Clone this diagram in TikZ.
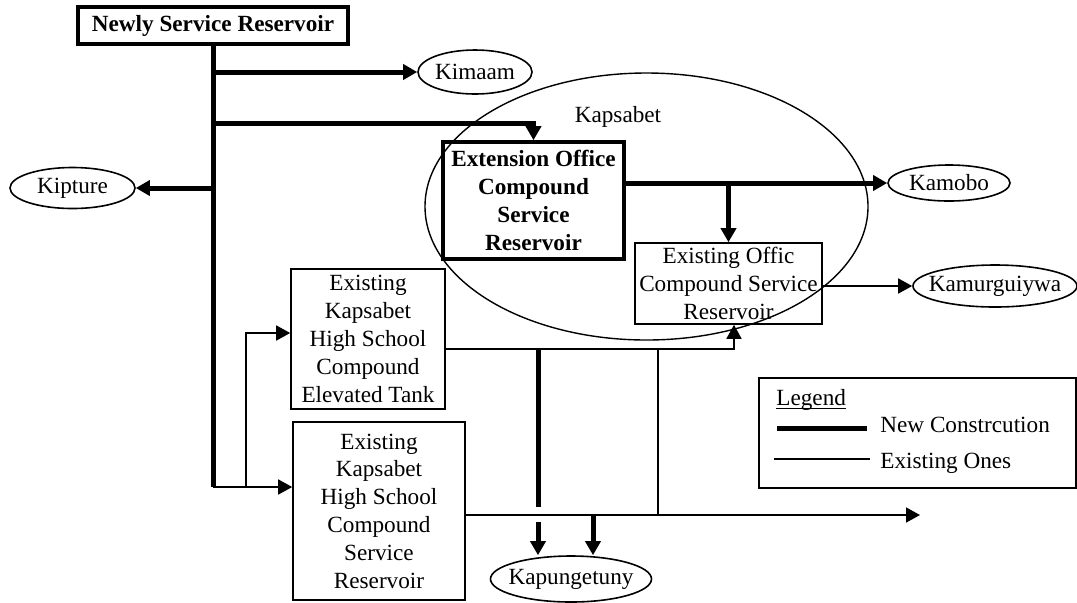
\documentclass[tikz,border=0pt]{standalone}
\usepackage{fontspec}
\setmainfont{Liberation Serif}
\usetikzlibrary{arrows.meta, positioning, shapes.geometric}

\begin{document}
\begin{tikzpicture}[x=0.5pt, y=-0.5pt,
    font=\fontsize{11.6}{13.9}\selectfont,
    newpipe/.style={line width=2.5pt},
    oldpipe/.style={line width=0.8pt},
    tip/.style={-{Triangle[length=7pt,width=7.5pt]}},
    newbox/.style={rectangle, draw, line width=1.8pt, font=\fontsize{11.6}{13.9}\selectfont\bfseries, align=center, inner sep=0pt},
    oldbox/.style={rectangle, draw, line width=0.8pt, align=center, inner sep=0pt},
    place/.style={ellipse, draw, line width=0.8pt, inner sep=0pt}]
    \useasboundingbox (0,0) rectangle (1077,602);

    % Kapsabet area
    \node[place, line width=0.7pt, minimum width=221.5pt, minimum height=133.5pt] (kapsabet) at (646.5,206.5) {};
    \node[anchor=base] (kaplabel) at (618,122.7) {Kapsabet};

    % reservoirs and tanks
    \node[newbox, line width=2pt, minimum width=135pt, minimum height=18.5pt] (nsr) at (213,25.5) {Newly Service Reservoir};
    \node[newbox, minimum width=90.5pt, minimum height=58.5pt] (ext) at (533.5,200.5) {Extension Office\\Compound\\Service\\Reservoir};
    \node[oldbox, minimum width=93.5pt, minimum height=40.5pt] (exoff) at (728.5,283.5) {Existing Offic\\Compound Service\\Reservoir};
    \node[oldbox, minimum width=77pt, minimum height=70pt] (tank) at (368,339) {Existing\\Kapsabet\\High School\\Compound\\Elevated Tank};
    \node[oldbox, minimum width=86pt, minimum height=89pt] (hsres) at (379,511) {Existing\\Kapsabet\\High School\\Compound\\Service\\Reservoir};

    % places served
    \node[place, minimum width=57pt, minimum height=22pt, label=center:Kimaam] (kimaam) at (475,72) {};
    \node[place, minimum width=62.5pt, minimum height=20.5pt, label=center:Kipture] (kipture) at (72.5,188) {};
    \node[place, minimum width=61pt, minimum height=18pt, label=center:Kamobo] (kamobo) at (949,183) {};
    \node[place, minimum width=82pt, minimum height=21pt, label=center:Kamurguiywa] (kamur) at (995,286) {};
    \node[place, minimum width=80.5pt, minimum height=23pt, label=center:Kapungetuny] (kapung) at (571,579) {};

    % junctions
    \coordinate (jkim) at (nsr.south |- kimaam.west);
    \coordinate (jext) at (213,123);
    \coordinate (jkip) at (nsr.south |- kipture.east);
    \coordinate (jfoot) at (213,487);
    \coordinate (jtank) at (245.7,487);
    \coordinate (jmid) at (658,349);
    \coordinate (jlow) at (658,515);
    \coordinate (sink) at (920,515);
    \coordinate (jk1) at (538,349);
    \coordinate (gap1) at (538,507);
    \coordinate (gap2) at (538,522);
    \coordinate (jk2) at (593,515);

    % new construction
    \draw[newpipe] (nsr.south) -- (jfoot);
    \draw[newpipe, tip] (jkim) -- (kimaam.west);
    \draw[newpipe, tip] (jext) -| (ext.north);
    \draw[newpipe, tip] (jkip) -- (kipture.east);
    \draw[newpipe, tip] (ext.east |- kamobo.west) -- (kamobo.west);
    \draw[newpipe, tip] (exoff.north |- kamobo.west) -- (exoff.north);
    \draw[newpipe] (jk1) -- (gap1);
    \draw[newpipe, tip] (gap2) -- (kapung.north -| gap2);
    \draw[newpipe, tip] (jk2) -- (kapung.north -| jk2);

    % existing ones
    \draw[oldpipe, tip] (jfoot) -- (hsres.west |- jfoot);
    \draw[oldpipe, tip] (jtank) |- ([yshift=3pt]tank.west);
    \draw[oldpipe, tip] ([yshift=-5pt]tank.east) -| ([xshift=2.75pt]exoff.south);
    \draw[oldpipe] (jmid) -- (jlow);
    \draw[oldpipe, tip] (hsres.east |- jlow) -- (sink);
    \draw[oldpipe, tip] (exoff.east |- kamur.west) -- (kamur.west);

    % legend
    \node[draw, line width=1pt, minimum width=158.5pt, minimum height=55pt, inner sep=0pt] (legend) at (917.5,433) {};
    \node[anchor=base west, inner sep=0pt] (legtitle) at (776,405) {Legend};
    \draw[line width=0.5pt] ([yshift=-1.5pt]legtitle.base west) -- ([yshift=-1.5pt]legtitle.base east);
    \draw[newpipe] (777,428) -- (867,428);
    \node[anchor=base west, inner sep=0pt] (legnew) at (880,432) {New Constrcution};
    \draw[oldpipe] (774,459) -- (870,459);
    \node[anchor=base west, inner sep=0pt] (legold) at (880,468) {Existing Ones};
\end{tikzpicture}
\end{document}
